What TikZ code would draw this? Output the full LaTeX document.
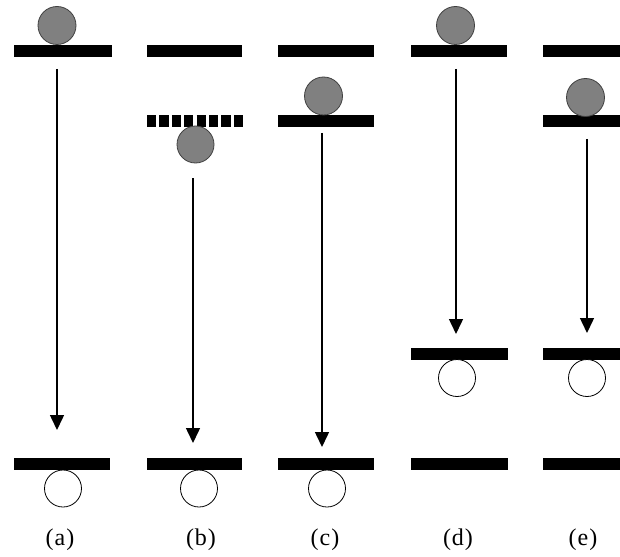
\documentclass[tikz,border=0pt]{standalone}
\usepackage{fontspec}
\setmainfont{Liberation Serif}
\usetikzlibrary{arrows.meta}
\definecolor{ballgray}{RGB}{128,128,128}
\tikzset{
  level/.style={line width=12pt},
  dashlevel/.style={line width=12pt, dash pattern=on 9.2pt off 3.2pt},
  full/.style={fill=ballgray, draw=black!75, line width=0.8pt},
  empty/.style={fill=white, draw=black, line width=0.8pt},
  jump/.style={line width=1.5pt, -{Triangle[length=15pt,width=14pt]}},
  caption/.style={font=\fontsize{24}{28}\selectfont, inner sep=0pt}
}
\begin{document}
\begin{tikzpicture}[x=1pt,y=-1pt]
\useasboundingbox (0,0) rectangle (620,556);
\fill[white] (0,0) rectangle (620,556);

% (a)
\draw[level] (14,51) -- (112,51);
\draw[level] (14,464) -- (110,464);
\draw[full] (57,25.5) circle (19);
\draw[empty] (63,488.5) circle (18.5);
\coordinate (a1) at (57,69);
\coordinate (a2) at (57,430);
\draw[jump] (a1) -- (a2);
\node[caption] (la) at (60,540) {(\kern1pt a\kern1pt)};

% (b)
\draw[level] (147,51) -- (242,51);
\draw[dashlevel] (147,121) -- (243,121);
\draw[level] (147,464) -- (242,464);
\draw[full] (195.5,144.5) circle (18.5);
\draw[empty] (199,488.5) circle (18.5);
\coordinate (b1) at (193,178);
\coordinate (b2) at (193,443);
\draw[jump] (b1) -- (b2);
\node[caption] (lb) at (201,540) {(\kern1pt b\kern1pt)};

% (c)
\draw[level] (278,51) -- (374,51);
\draw[level] (278,121) -- (374,121);
\draw[level] (278,464) -- (374,464);
\draw[full] (323.5,96) circle (19);
\draw[empty] (327,488.5) circle (18.5);
\coordinate (c1) at (322,133);
\coordinate (c2) at (322,447);
\draw[jump] (c1) -- (c2);
\node[caption] (lc) at (325,540) {(\kern1pt c\kern1pt)};

% (d)
\draw[level] (411,51) -- (507,51);
\draw[level] (411,353.5) -- (508,353.5);
\draw[level] (411,464) -- (508,464);
\draw[full] (455.5,25.5) circle (19);
\draw[empty] (457,378) circle (18.5);
\coordinate (d1) at (456,69);
\coordinate (d2) at (456,334);
\draw[jump] (d1) -- (d2);
\node[caption] (ld) at (458,540) {(\kern1pt d\kern1pt)};

% (e)
\draw[level] (543,51) -- (621,51);
\draw[level] (543,121) -- (621,121);
\draw[level] (543,353.5) -- (621,353.5);
\draw[level] (543,464) -- (621,464);
\draw[full] (585.5,97.5) circle (19);
\draw[empty] (587,378) circle (18.5);
\coordinate (e1) at (587,139);
\coordinate (e2) at (587,333);
\draw[jump] (e1) -- (e2);
\node[caption] (le) at (583,540) {(\kern1pt e\kern1pt)};
\end{tikzpicture}
\end{document}
